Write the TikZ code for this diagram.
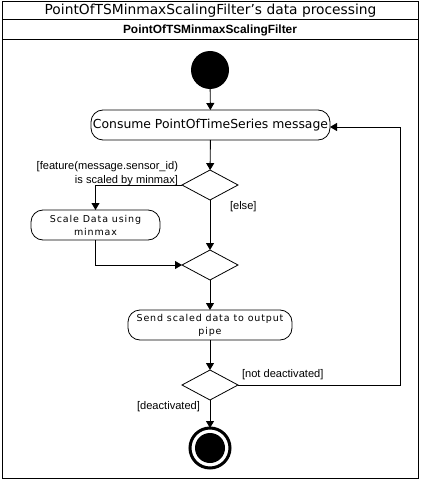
\documentclass[tikz,border=0pt]{standalone}
\usepackage{fontspec}
\setmainfont{DejaVu Sans}
\newfontfamily\lblfont{Liberation Sans}
\newfontfamily\smallfont[LetterSpace=9]{DejaVu Sans}
\usetikzlibrary{arrows.meta,shapes.geometric}
\begin{document}
\begin{tikzpicture}[x=1pt,y=-1pt,
  every node/.style={inner sep=0pt, outer sep=0pt},
  act/.style={draw, rounded corners=12pt, line width=0.8pt, anchor=center, font=\fontsize{12.4}{13}\selectfont, align=center},
  smallact/.style={draw, rounded corners=12pt, line width=0.8pt, anchor=center, font=\smallfont\fontsize{9.5}{13}\selectfont, align=center},
  dec/.style={draw, diamond, aspect=1.87, minimum width=56pt, minimum height=30pt, line width=0.8pt},
  flow/.style={line width=0.9pt, -{Triangle[length=7pt,width=8pt]}},
  lbl/.style={font=\lblfont\fontsize{11.1}{14}\selectfont, align=right}
]
\useasboundingbox (0,0) rectangle (421,481);
% frame
\draw[line width=1pt] (2,2) rectangle (418,478);
\draw[line width=1pt] (2,20) -- (418,20);
\draw[line width=1pt] (2,40) -- (418,40);
\node (title) at (210.5,11) {\fontsize{13.8}{15}\selectfont PointOfTSMinmaxScalingFilter's data processing};
\node (lane) at (210,30) {\lblfont\bfseries\fontsize{11.9}{12}\selectfont PointOfTSMinmaxScalingFilter};
% nodes
\node[circle, fill=black, minimum size=38pt] (start) at (210,70) {};
\node[act, minimum width=239pt, minimum height=30pt] (consume) at (210.5,125) {Consume PointOfTimeSeries message};
\node[dec] (d1) at (210,185) {};
\node[smallact, minimum width=129pt, minimum height=30pt] (scale) at (95.5,225) {Scale Data using\\minmax};
\node[dec] (d2) at (210,265) {};
\node[smallact, minimum width=164pt, minimum height=30pt] (send) at (210,325) {Send scaled data to output\\pipe};
\node[dec] (d3) at (210,385) {};
\node[circle, draw, line width=3pt, minimum size=40pt] (endo) at (210,448) {};
\node[circle, fill=black, minimum size=30pt] (endi) at (210,448) {};
\coordinate (loopA) at (400,385);
\coordinate (loopB) at (400,127);
% flows
\draw[flow] (start) -- (consume);
\draw[flow] (consume) -- (d1);
\draw[flow] (d1.west) -| (scale.north);
\draw[flow] (d1) -- (d2);
\draw[flow] (scale.south) |- (d2.west);
\draw[flow] (d2) -- (send);
\draw[flow] (send) -- (d3);
\draw[flow] (d3) -- (endo);
\draw[flow] (d3.east) -- (loopA) -- (loopB) -- (consume.east |- loopB);
% labels
\node[lbl, anchor=south east] (l1) at (178,186) {[feature(message.sensor\_id)\\is scaled by minmax]};
\node[lbl, anchor=west] (l2) at (230,207) {[else]};
\node[lbl, anchor=west] (l3) at (242,375) {[not deactivated]};
\node[lbl, anchor=east] (l4) at (200,407) {[deactivated]};
\end{tikzpicture}
\end{document}
